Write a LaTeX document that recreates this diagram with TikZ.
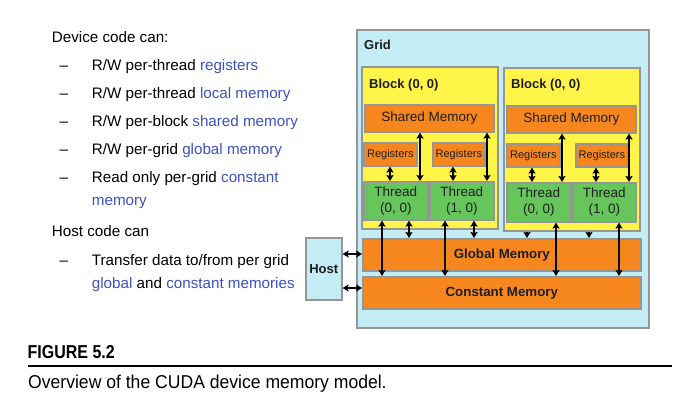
\documentclass[tikz,border=0pt]{standalone}
\usepackage{fontspec}
\setmainfont{Liberation Sans}
\newfontfamily\figfont[FakeStretch=0.855]{Liberation Sans}
\newfontfamily\capfont[FakeStretch=0.945]{Liberation Sans}
\usetikzlibrary{arrows.meta}
\definecolor{gridc}{RGB}{196,236,244}
\definecolor{yel}{RGB}{255,245,72}
\definecolor{ora}{RGB}{245,135,30}
\definecolor{grn}{RGB}{102,198,92}
\definecolor{bord}{RGB}{150,150,150}
\definecolor{bl}{RGB}{62,82,190}
\definecolor{dk}{RGB}{30,30,30}
\newcommand\bx[7]{\node[#1, minimum width={#4-#2}, minimum height={#5-#3}, anchor=north west] (#6) at (#2,#3) {#7};}
\tikzset{
  base/.style={draw=bord, line width=1.6pt, inner sep=1pt, text=dk},
  gridbox/.style={base, fill=gridc},
  blockbox/.style={base, fill=yel},
  orabox/.style={base, fill=ora},
  thbox/.style={base, fill=grn, align=center, font=\fontsize{13.5}{16}\selectfont},
  txt/.style={anchor=base west, inner sep=0pt, font=\fontsize{15.2}{18}\selectfont},
  lbl/.style={anchor=base west, inner sep=0pt, font=\fontsize{13}{15}\selectfont\bfseries, text=dk},
  arr/.style={line width=1.8pt, {Stealth[length=6pt,width=7pt,inset=1pt]}-{Stealth[length=6pt,width=7pt,inset=1pt]}},
  darr/.style={line width=1.8pt, -{Stealth[length=6pt,width=7pt,inset=1pt]}}
}
\begin{document}
\begin{tikzpicture}[x=1pt,y=-1pt]
\useasboundingbox[fill=white] (0,0) rectangle (695,417);

% left text
\node[txt] (t0) at (51.7,42.7) {Device code can:};
\node[txt] (d1) at (59.3,70.7) {–};
\node[txt] (t1) at (91.7,70.7) {R/W per-thread \textcolor{bl}{registers}};
\node[txt] (d2) at (59.3,98.5) {–};
\node[txt] (t2) at (91.7,98.5) {R/W per-thread \textcolor{bl}{local memory}};
\node[txt] (d3) at (59.3,126.3) {–};
\node[txt] (t3) at (91.7,126.3) {R/W per-block \textcolor{bl}{shared memory}};
\node[txt] (d4) at (59.3,154) {–};
\node[txt] (t4) at (91.7,154) {R/W per-grid \textcolor{bl}{global memory}};
\node[txt] (d5) at (59.3,182) {–};
\node[txt] (t5) at (91.7,182) {Read only per-grid \textcolor{bl}{constant}};
\node[txt] (t5b) at (91.7,205) {\textcolor{bl}{memory}};
\node[txt] (t6) at (51.7,236.7) {Host code can};
\node[txt] (d7) at (59.3,265) {–};
\node[txt] (t7) at (91.7,265) {Transfer data to/from per grid};
\node[txt] (t7b) at (91.7,288) {\textcolor{bl}{global} and \textcolor{bl}{constant memories}};

% grid
\bx{gridbox}{356}{29}{648}{327}{grid}{}
\node[lbl] (gridl) at (364,50) {Grid};

% blocks
\bx{blockbox}{361}{66}{497}{228}{blL}{}
\bx{blockbox}{503}{67}{639}{230}{blR}{}
\node[lbl] (blLl) at (369,88.3) {Block (0, 0)};
\node[lbl] (blRl) at (511,89) {Block (0, 0)};

% left block contents
\bx{orabox, font=\fontsize{13.5}{16}\selectfont}{364}{104}{493}{131}{shL}{Shared Memory}
\bx{orabox, font=\fontsize{11}{13}\selectfont}{363}{142}{416}{165}{regL1}{Registers}
\bx{orabox, font=\fontsize{11}{13}\selectfont}{432}{142}{484}{165}{regL2}{Registers}
\bx{thbox}{363}{181}{427}{219}{thL1}{Thread\\(0, 0)}
\bx{thbox}{429}{181}{493}{219}{thL2}{Thread\\(1, 0)}

% right block contents
\bx{orabox, font=\fontsize{13.5}{16}\selectfont}{506}{105}{635}{132}{shR}{Shared Memory}
\bx{orabox, font=\fontsize{11}{13}\selectfont}{506}{143}{559}{166}{regR1}{Registers}
\bx{orabox, font=\fontsize{11}{13}\selectfont}{575}{143}{627}{166}{regR2}{Registers}
\bx{thbox}{506}{182}{570}{221}{thR1}{Thread\\(0, 0)}
\bx{thbox}{572}{182}{635}{221}{thR2}{Thread\\(1, 0)}

% memories
\bx{orabox, font=\fontsize{13.3}{16}\selectfont\bfseries}{362}{238}{640}{270}{glob}{Global Memory}
\bx{orabox, font=\fontsize{13.3}{16}\selectfont\bfseries}{362}{276}{640}{308}{cons}{Constant Memory}

% host
\bx{gridbox, font=\fontsize{13}{15}\selectfont\bfseries}{305}{237}{341}{299}{host}{Host}

% arrows left block
\draw[arr] (390,0 |- regL1.south) -- (390,0 |- thL1.north);
\draw[arr] (420,0 |- shL.south) -- (420,0 |- thL1.north);
\draw[arr] (453,0 |- regL2.south) -- (453,0 |- thL2.north);
\draw[arr] (487,0 |- shL.south) -- (487,0 |- thL2.north);
\draw[arr] (382,0 |- thL1.south) -- (382,0 |- cons.north);
\draw[arr] (409,0 |- thL1.south) -- (409,0 |- glob.north);
\draw[arr] (445,0 |- thL2.south) -- (445,0 |- cons.north);
\draw[arr] (474,0 |- thL2.south) -- (474,0 |- glob.north);

% arrows right block
\draw[arr] (532,0 |- regR1.south) -- (532,0 |- thR1.north);
\draw[arr] (562,0 |- shR.south) -- (562,0 |- thR1.north);
\draw[arr] (596,0 |- regR2.south) -- (596,0 |- thR2.north);
\draw[arr] (629,0 |- shR.south) -- (629,0 |- thR2.north);
\draw[arr] (556,0 |- thR1.south) -- (556,0 |- cons.north);
\draw[arr] (619,0 |- thR2.south) -- (619,0 |- cons.north);
\draw[darr] (527,0 |- blR.south) -- (527,0 |- glob.north);
\draw[darr] (589,0 |- blR.south) -- (589,0 |- glob.north);

% host arrows
\draw[arr] (host.east |- 0,254) -- (glob.west |- 0,254);
\draw[arr] (host.east |- 0,288) -- (cons.west |- 0,288);

% caption
\node[anchor=base west, inner sep=0pt, font=\figfont\fontsize{18.7}{20}\selectfont\bfseries] (fig) at (27.5,358.7) {FIGURE 5.2};
\coordinate (rl) at (28,366);
\coordinate (rr) at (672,366);
\draw[line width=2.5pt] (rl) -- (rr);
\node[anchor=base west, inner sep=0pt, font=\capfont\fontsize{18.6}{20}\selectfont] (cap) at (28,388) {Overview of the CUDA device memory model.};
\end{tikzpicture}
\end{document}
